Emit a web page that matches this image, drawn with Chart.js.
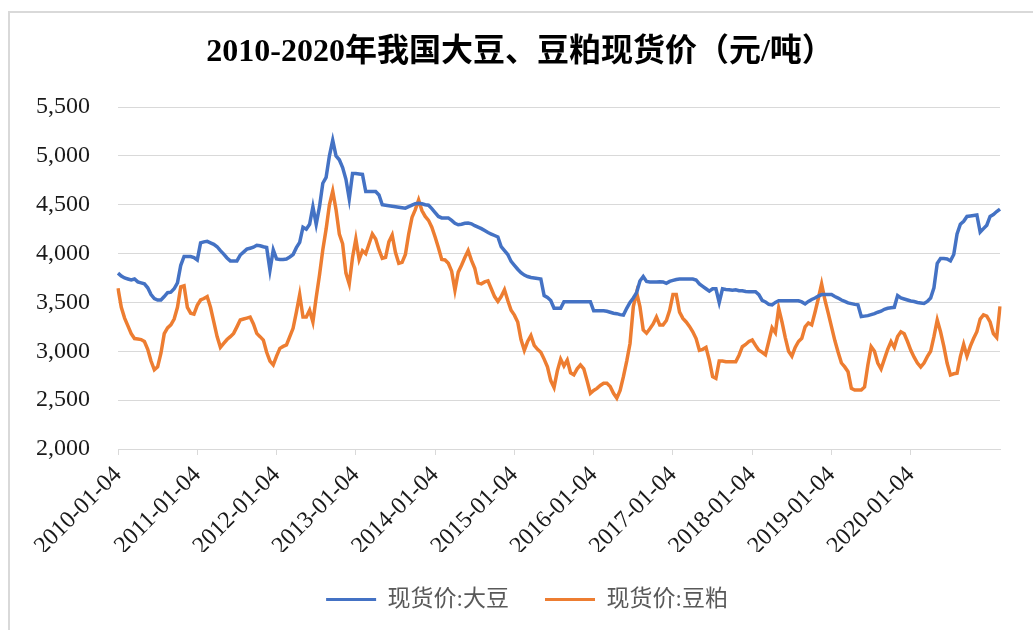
<!DOCTYPE html>
<html>
<head>
<meta charset="utf-8">
<script src="https://cdn.jsdelivr.net/npm/chart.js@4.4.1/dist/chart.umd.min.js"></script>
<style>
  html, body { margin: 0; padding: 0; background: #ffffff; }
  #wrap { position: relative; width: 1033px; height: 630px; }
</style>
</head>
<body>
<div id="wrap"><canvas id="c" width="1033" height="630"></canvas></div>
<script>
// ---- Data (semi-monthly readings, 24 per year, starting 2010-01-04) ----
const chartTitle = '2010-2020年我国大豆、豆粕现货价（元/吨）';
const seriesNames = ['现货价:大豆', '现货价:豆粕'];
const yearLabels = ['2010-01-04','2011-01-04','2012-01-04','2013-01-04','2014-01-04','2015-01-04',
                    '2016-01-04','2017-01-04','2018-01-04','2019-01-04','2020-01-04'];
const POINTS_PER_YEAR = 24;
const yTicks = { min: 2000, max: 5500, step: 500 };

const soybean = [
  3800,3770,3750,3740,3730,3740,3710,3700,3690,3650,3580,3540,3525,3525,3560,3600,3605,3640,3700,3880,3970,3970,3970,3960,
  3935,4110,4120,4125,4110,4095,4070,4030,3995,3955,3925,3925,3925,3985,4015,4045,4055,4065,4085,4080,4070,4062,3830,4037,
  3945,3940,3940,3945,3965,3990,4060,4115,4270,4250,4300,4480,4300,4480,4720,4780,5000,5160,5000,4960,4880,4760,4560,4820,
  4820,4815,4810,4635,4635,4635,4635,4600,4500,4495,4490,4485,4480,4475,4470,4465,4480,4495,4510,4515,4510,4500,4495,4460,
  4420,4380,4365,4365,4365,4340,4310,4295,4300,4310,4313,4305,4285,4270,4255,4235,4215,4200,4185,4170,4070,4030,3990,3920,
  3880,3840,3805,3780,3765,3755,3750,3745,3740,3570,3550,3520,3440,3440,3440,3508,3508,3508,3508,3508,3508,3508,3508,3508,
  3415,3415,3415,3415,3410,3400,3390,3385,3375,3370,3440,3500,3545,3600,3720,3765,3715,3710,3710,3710,3712,3710,3695,3715,
  3725,3735,3740,3740,3740,3740,3740,3730,3690,3665,3640,3615,3640,3640,3500,3640,3633,3630,3625,3630,3620,3620,3612,3610,
  3610,3610,3580,3520,3505,3480,3475,3500,3517,3517,3517,3517,3517,3517,3517,3505,3485,3510,3530,3545,3565,3580,3580,3580,
  3580,3560,3545,3525,3510,3495,3488,3480,3475,3355,3360,3365,3375,3385,3400,3410,3430,3440,3445,3450,3570,3545,3535,3525,
  3515,3510,3500,3495,3490,3510,3545,3650,3900,3950,3950,3945,3925,3990,4200,4300,4330,4380,4385,4390,4395,4220,4255,4290,
  4380,4400,4430,4455
];

const soymeal = [
  3645,3450,3340,3260,3180,3130,3125,3120,3100,3020,2900,2810,2840,2980,3180,3240,3270,3330,3450,3660,3670,3450,3390,3380,
  3470,3525,3540,3560,3450,3300,3150,3040,3080,3120,3150,3183,3250,3320,3330,3340,3350,3280,3183,3150,3115,2990,2900,2860,
  2950,3030,3050,3065,3150,3235,3400,3580,3350,3350,3420,3300,3550,3780,4040,4250,4500,4640,4450,4200,4100,3800,3690,3960,
  4150,3940,4030,4000,4100,4200,4150,4040,3950,3960,4120,4190,4010,3900,3910,3990,4200,4370,4450,4550,4440,4380,4340,4270,
  4170,4060,3940,3935,3900,3820,3625,3810,3880,3960,4030,3930,3850,3700,3690,3710,3720,3640,3560,3510,3560,3630,3520,3420,
  3370,3300,3120,3010,3100,3160,3060,3020,2990,2920,2840,2700,2630,2800,2920,2850,2910,2780,2760,2820,2860,2820,2700,2570,
  2600,2620,2650,2672,2672,2640,2570,2520,2600,2740,2900,3080,3457,3600,3457,3218,3185,3230,3280,3350,3270,3270,3315,3420,
  3580,3580,3400,3337,3300,3255,3200,3130,3010,3020,3040,2910,2740,2723,2900,2900,2893,2893,2893,2893,2960,3047,3070,3100,
  3115,3060,3010,2990,2965,3100,3240,3190,3440,3300,3140,3000,2950,3040,3100,3133,3250,3290,3270,3400,3540,3690,3525,3390,
  3250,3110,2990,2880,2840,2790,2620,2604,2604,2604,2635,2860,3047,3000,2880,2820,2920,3020,3098,3040,3150,3200,3180,3100,
  3010,2940,2880,2840,2880,2945,3000,3150,3320,3200,3050,2877,2757,2770,2775,2945,3070,2950,3050,3130,3200,3330,3372,3360,
  3300,3180,3140,3460
];

// ---- Build labels: only year starts carry text ----
const labels = soybean.map((_, i) =>
  (i % POINTS_PER_YEAR === 0 && yearLabels[i / POINTS_PER_YEAR]) ? yearLabels[i / POINTS_PER_YEAR] : '');

const BLUE = '#4472C4';
const ORANGE = '#ED7D31';
const GRID = '#d9d9d9';

const frameAndTitle = {
  id: 'frameAndTitle',
  afterLayout(chart) {
    if (chart.legend && !chart.legend._shifted) {
      chart.legend.left += 44;
      chart.legend._shifted = true;
    }
  },
  beforeDraw(chart) {
    const ctx = chart.ctx;
    ctx.save();
    ctx.fillStyle = '#ffffff';
    ctx.fillRect(0, 0, chart.width, chart.height);
    ctx.fillStyle = GRID;
    ctx.fillRect(8, 11, 2, chart.height - 11);
    ctx.fillRect(8, 11, chart.width - 8, 2);
    ctx.restore();
  },
  afterDraw(chart) {
    const ctx = chart.ctx;
    ctx.save();
    ctx.font = 'bold 32px "Liberation Serif", "Noto Sans CJK SC", serif';
    ctx.fillStyle = '#000000';
    ctx.textAlign = 'center';
    ctx.textBaseline = 'middle';
    ctx.fillText(chartTitle, 520, 53);
    ctx.restore();
  }
};

new Chart(document.getElementById('c'), {
  type: 'line',
  data: {
    labels: labels,
    datasets: [
      { label: seriesNames[0], data: soybean, borderColor: BLUE, backgroundColor: BLUE,
        borderWidth: 3.5, pointRadius: 0, tension: 0, fill: false },
      { label: seriesNames[1], data: soymeal, borderColor: ORANGE, backgroundColor: ORANGE,
        borderWidth: 3.5, pointRadius: 0, tension: 0, fill: false }
    ]
  },
  options: {
    responsive: false,
    animation: false,
    events: [],
    layout: { padding: { left: 10, right: 33, top: 107, bottom: 9 } },
    scales: {
      x: {
        type: 'category',
        offset: false,
        border: { display: true, color: GRID, width: 1 },
        grid: { drawOnChartArea: false, drawTicks: true, tickLength: 6, color: GRID },
        ticks: {
          autoSkip: false,
          minRotation: 45,
          maxRotation: 45,
          padding: 6,
          color: '#1a1a1a',
          font: { family: '"Liberation Serif", serif', size: 24 },
          callback: function (v, i) { const l = labels[i]; return l ? l : null; }
        },
        afterFit: (s) => { s.height = 103; }
      },
      y: {
        min: yTicks.min,
        max: yTicks.max,
        border: { display: false },
        grid: { color: GRID, lineWidth: 1, drawTicks: false },
        ticks: {
          stepSize: yTicks.step,
          padding: 28,
          color: '#1a1a1a',
          font: { family: '"Liberation Serif", serif', size: 24 },
          callback: (v) => v.toLocaleString('en-US')
        },
        afterFit: (s) => { s.width = 108; }
      }
    },
    plugins: {
      title: { display: false },
      tooltip: { enabled: false },
      legend: {
        display: true,
        position: 'bottom',
        labels: {
          boxWidth: 50,
          boxHeight: 3,
          padding: 36,
          color: '#595959',
          font: { family: '"Liberation Serif", "Noto Sans CJK SC", serif', size: 23 },
          generateLabels: (chart) => Chart.defaults.plugins.legend.labels.generateLabels(chart)
            .map(l => Object.assign(l, { lineWidth: 0 }))
        }
      }
    }
  },
  plugins: [frameAndTitle]
});
</script>
</body>
</html>
